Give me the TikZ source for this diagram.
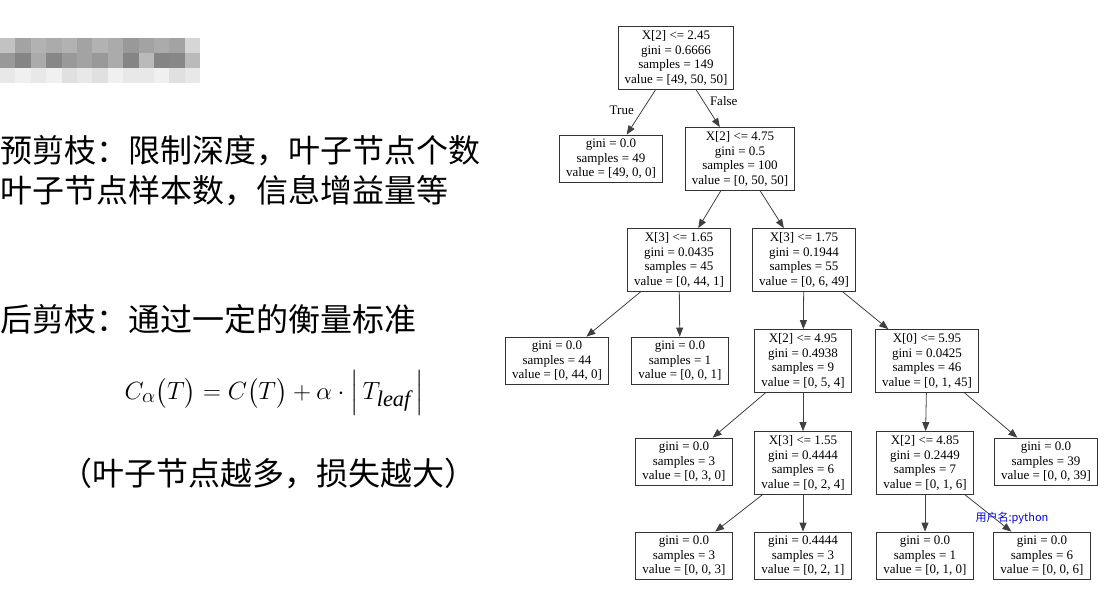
\documentclass[tikz,border=0pt]{standalone}
\usepackage{amsmath}
\usepackage{xcolor}
\usepackage{fontspec}
\setmainfont{Liberation Serif}
\newfontfamily\cjk{Noto Sans CJK SC}
\usetikzlibrary{arrows.meta}

\begin{document}
\begin{tikzpicture}[x=1pt,y=-1pt,->,>={Triangle[length=9pt,width=7pt]},
    main node/.style={draw=black!80,line width=0.9pt,align=center,font=\fontsize{13}{14.6}\selectfont,inner xsep=6.5pt,inner ysep=4pt},
    cn text/.style={font=\cjk\fontsize{32}{36}\selectfont,anchor=west,inner sep=0pt}]
    \tikzset{every edge/.style={draw=black!75,line width=0.8pt},
        edge label/.style={font=\fontsize{13}{14.6}\selectfont}}
    \useasboundingbox (0,0) rectangle (1111,593);
    % blurred block
    \foreach \g [count=\i from 0] in {24,36,30,33,30,36,30,33,40,36,33,36,16}
        \fill[black!\g] (\i*15.4,38) rectangle ++(15.4,15.2);
    \foreach \g [count=\i from 0] in {40,48,33,47,40,36,40,33,48,27,48,47,27}
        \fill[black!\g] (\i*15.4,53) rectangle ++(15.4,15.2);
    \foreach \g [count=\i from 0] in {9,6,9,6,12,9,12,6,9,9,6,12,9}
        \fill[black!\g] (\i*15.4,68) rectangle ++(15.4,15);
    % left text
    \node[cn text] (t1) at (0,151) {预剪枝：限制深度，叶子节点个数};
    \node[cn text] (t2) at (0,191) {叶子节点样本数，信息增益量等};
    \node[cn text] (t3) at (0,319) {后剪枝：通过一定的衡量标准};
    \node[font=\fontsize{32}{38}\selectfont] (f) at (274,393)
        {$C_{\alpha}\bigl(T\bigr)=C\bigl(T\bigr)+\alpha\cdot\Bigl|\,T_{\mathit{leaf}}\,\Bigr|$};
    \node[cn text] (t4) at (60,474) {（叶子节点越多，损失越大）};
    % tree
    \node[main node] (0) at (676,58) {X[2] <= 2.45\\gini = 0.6666\\samples = 149\\value = [49, 50, 50]};
    \node[main node] (1) at (611,159) {gini = 0.0\\samples = 49\\value = [49, 0, 0]};
    \node[main node] (2) at (740,159) {X[2] <= 4.75\\gini = 0.5\\samples = 100\\value = [0, 50, 50]};
    \node[main node] (3) at (679,260) {X[3] <= 1.65\\gini = 0.0435\\samples = 45\\value = [0, 44, 1]};
    \node[main node] (4) at (804,260) {X[3] <= 1.75\\gini = 0.1944\\samples = 55\\value = [0, 6, 49]};
    \node[main node] (5) at (557,361) {gini = 0.0\\samples = 44\\value = [0, 44, 0]};
    \node[main node] (6) at (680,361) {gini = 0.0\\samples = 1\\value = [0, 0, 1]};
    \node[main node] (7) at (803,361) {X[2] <= 4.95\\gini = 0.4938\\samples = 9\\value = [0, 5, 4]};
    \node[main node] (8) at (927,361) {X[0] <= 5.95\\gini = 0.0425\\samples = 46\\value = [0, 1, 45]};
    \node[main node] (9) at (684,462) {gini = 0.0\\samples = 3\\value = [0, 3, 0]};
    \node[main node] (10) at (803,463) {X[3] <= 1.55\\gini = 0.4444\\samples = 6\\value = [0, 2, 4]};
    \node[main node] (11) at (925,463) {X[2] <= 4.85\\gini = 0.2449\\samples = 7\\value = [0, 1, 6]};
    \node[main node] (12) at (1046,462) {gini = 0.0\\samples = 39\\value = [0, 0, 39]};
    \node[main node] (13) at (684,556) {gini = 0.0\\samples = 3\\value = [0, 0, 3]};
    \node[main node] (14) at (803,556) {gini = 0.4444\\samples = 3\\value = [0, 2, 1]};
    \node[main node] (15) at (925,556) {gini = 0.0\\samples = 1\\value = [0, 1, 0]};
    \node[main node] (16) at (1042,556) {gini = 0.0\\samples = 6\\value = [0, 0, 6]};
    \path
        (0) edge node[edge label,left,pos=0.45,xshift=-5pt] {True} (1)
        (0) edge node[edge label,right,pos=0.3,xshift=3pt] {False} (2)
        (2) edge (3)
        (2) edge (4)
        (3) edge (5)
        (3) edge (6)
        (4) edge (7)
        (4) edge (8)
        (7) edge (9)
        (7) edge (10)
        (8) edge (11)
        (8) edge (12)
        (10) edge (13)
        (10) edge (14)
        (11) edge (15)
        (11) edge (16);
    \node[font=\cjk\fontsize{11}{13}\selectfont,text=blue] (w) at (1012,518) {用户名:python};
\end{tikzpicture}
\end{document}
